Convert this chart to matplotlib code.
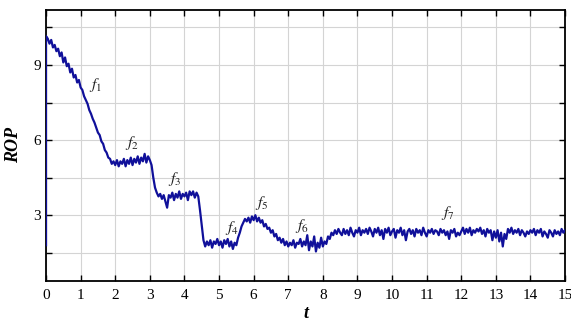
import numpy as np
import matplotlib
matplotlib.use("Agg")
import matplotlib.pyplot as plt
from matplotlib.ticker import MultipleLocator

plt.rcParams['font.family'] = ['Liberation Serif', 'DejaVu Serif']
plt.rcParams['mathtext.fontset'] = 'stix'

# time axis (step 0.05) and ROP values
t_start = 0.0
rop_start = 1.8
time = np.round(np.arange(0, 15.0001, 0.05), 2)
rop = [
    10.15, 10.05, 9.85, 10.0, 9.7, 9.8, 9.55, 9.65, 9.35, 9.5,
    9.1, 9.3, 8.95, 9.05, 8.7, 8.85, 8.5, 8.6, 8.3, 8.4,
    8.1, 8.0, 7.75, 7.6, 7.45, 7.2, 7.05, 6.85, 6.7, 6.5,
    6.3, 6.2, 5.95, 5.85, 5.6, 5.5, 5.3, 5.25, 5.05, 5.15,
    5.0, 5.2, 4.95, 5.15, 5.05, 5.25, 4.95, 5.2, 5.05, 5.3,
    5.0, 5.25, 5.1, 5.35, 5.05, 5.3, 5.15, 5.45, 5.1, 5.35,
    5.2, 5.0, 4.5, 4.1, 3.9, 3.75, 3.85, 3.65, 3.8, 3.55,
    3.3, 3.8, 3.7, 3.9, 3.6, 3.85, 3.7, 3.95, 3.65, 3.85,
    3.75, 3.9, 3.6, 3.95, 3.8, 3.95, 3.7, 3.9, 3.75, 3.2,
    2.6, 2.0, 1.75, 1.95, 1.8, 2.0, 1.7, 1.95, 1.85, 2.05,
    1.8, 1.95, 1.7, 2.0, 1.85, 2.05, 1.75, 1.95, 1.65, 1.9,
    1.8, 2.1, 2.3, 2.55, 2.7, 2.85, 2.75, 2.9, 2.7, 2.95,
    2.8, 3.0, 2.75, 2.9, 2.7, 2.8, 2.55, 2.65, 2.45, 2.5,
    2.3, 2.4, 2.15, 2.25, 2.0, 2.1, 1.9, 2.05, 1.8, 1.95,
    1.75, 1.9, 1.8, 2.0, 1.7, 1.9, 1.85, 2.05, 1.75, 1.95,
    1.8, 2.2, 1.6, 1.95, 1.75, 2.15, 1.55, 1.9, 1.7, 2.1,
    1.75, 1.95, 1.85, 2.15, 2.05, 2.3, 2.2, 2.4, 2.25, 2.45,
    2.3, 2.2, 2.45, 2.25, 2.4, 2.2, 2.5, 2.3, 2.15, 2.4,
    2.3, 2.5, 2.2, 2.4, 2.3, 2.45, 2.25, 2.5, 2.35, 2.15,
    2.45, 2.3, 2.5, 2.2, 2.4, 2.05, 2.45, 2.3, 2.5, 2.2,
    2.35, 2.45, 2.1, 2.4, 2.3, 2.5, 2.2, 2.4, 2.0, 2.35,
    2.45, 2.25, 2.4, 2.15, 2.45, 2.3, 2.4, 2.2, 2.5, 2.3,
    2.15, 2.4, 2.3, 2.45, 2.25, 2.4, 2.35, 2.2, 2.45, 2.3,
    2.4, 2.2, 2.35, 2.05, 2.4, 2.3, 2.45, 2.15, 2.3, 2.2,
    2.35, 2.5, 2.25, 2.45, 2.3, 2.5, 2.2, 2.4, 2.3, 2.45,
    2.35, 2.5, 2.25, 2.4, 2.15, 2.45, 2.3, 2.4, 2.0, 2.35,
    2.1, 2.4, 1.95, 2.3, 1.75, 2.25, 2.05, 2.45, 2.3, 2.5,
    2.25, 2.4, 2.3, 2.45, 2.2, 2.4, 2.3, 2.15, 2.35, 2.25,
    2.4, 2.3, 2.45, 2.2, 2.4, 2.3, 2.45, 2.15, 2.35, 2.25,
    2.1, 2.4, 2.3, 2.15, 2.4, 2.25, 2.35, 2.2, 2.45, 2.3,
    2.4,
]

labels = ['$f_1$', '$f_2$', '$f_3$', '$f_4$', '$f_5$', '$f_6$', '$f_7$']
label_x = [1.42, 2.48, 3.73, 5.37, 6.24, 7.40, 11.62]
label_y = [8.20, 5.90, 4.45, 2.50, 3.50, 2.55, 3.10]

xticks = list(range(0, 16))
yticks = [3, 6, 9]

fig = plt.figure(figsize=(5.71, 3.22), dpi=100)
ax = fig.add_axes([0.0806, 0.1273, 0.909, 0.842])

x_all = np.concatenate([[t_start], time])
y_all = np.concatenate([[rop_start], rop])
ax.plot(x_all, y_all, color='#10109a', lw=1.6, zorder=3)

for s, lx, ly in zip(labels, label_x, label_y):
    ax.text(lx, ly, s, fontsize=11.5, ha='center', va='center', color='#222222')

ax.set_xlim(0, 15)
ax.set_ylim(0.37, 11.2)
ax.set_xticks(xticks)
ax.set_yticks(yticks)
ax.yaxis.set_minor_locator(MultipleLocator(1.5))
ax.grid(True, which='both', color='#d4d4d4', lw=0.8, zorder=0)
ax.tick_params(which='both', direction='in', top=True, right=True,
               labelsize=11, length=4, width=1.0)
ax.tick_params(axis='x', pad=6)
for sp in ax.spines.values():
    sp.set_linewidth(1.3)

ax.set_ylabel('ROP', fontsize=13, fontweight='bold', fontstyle='italic', labelpad=8)
ax.set_xlabel('t', fontsize=13, fontweight='bold', fontstyle='italic', labelpad=2)

fig.savefig('out.png', dpi=100)
